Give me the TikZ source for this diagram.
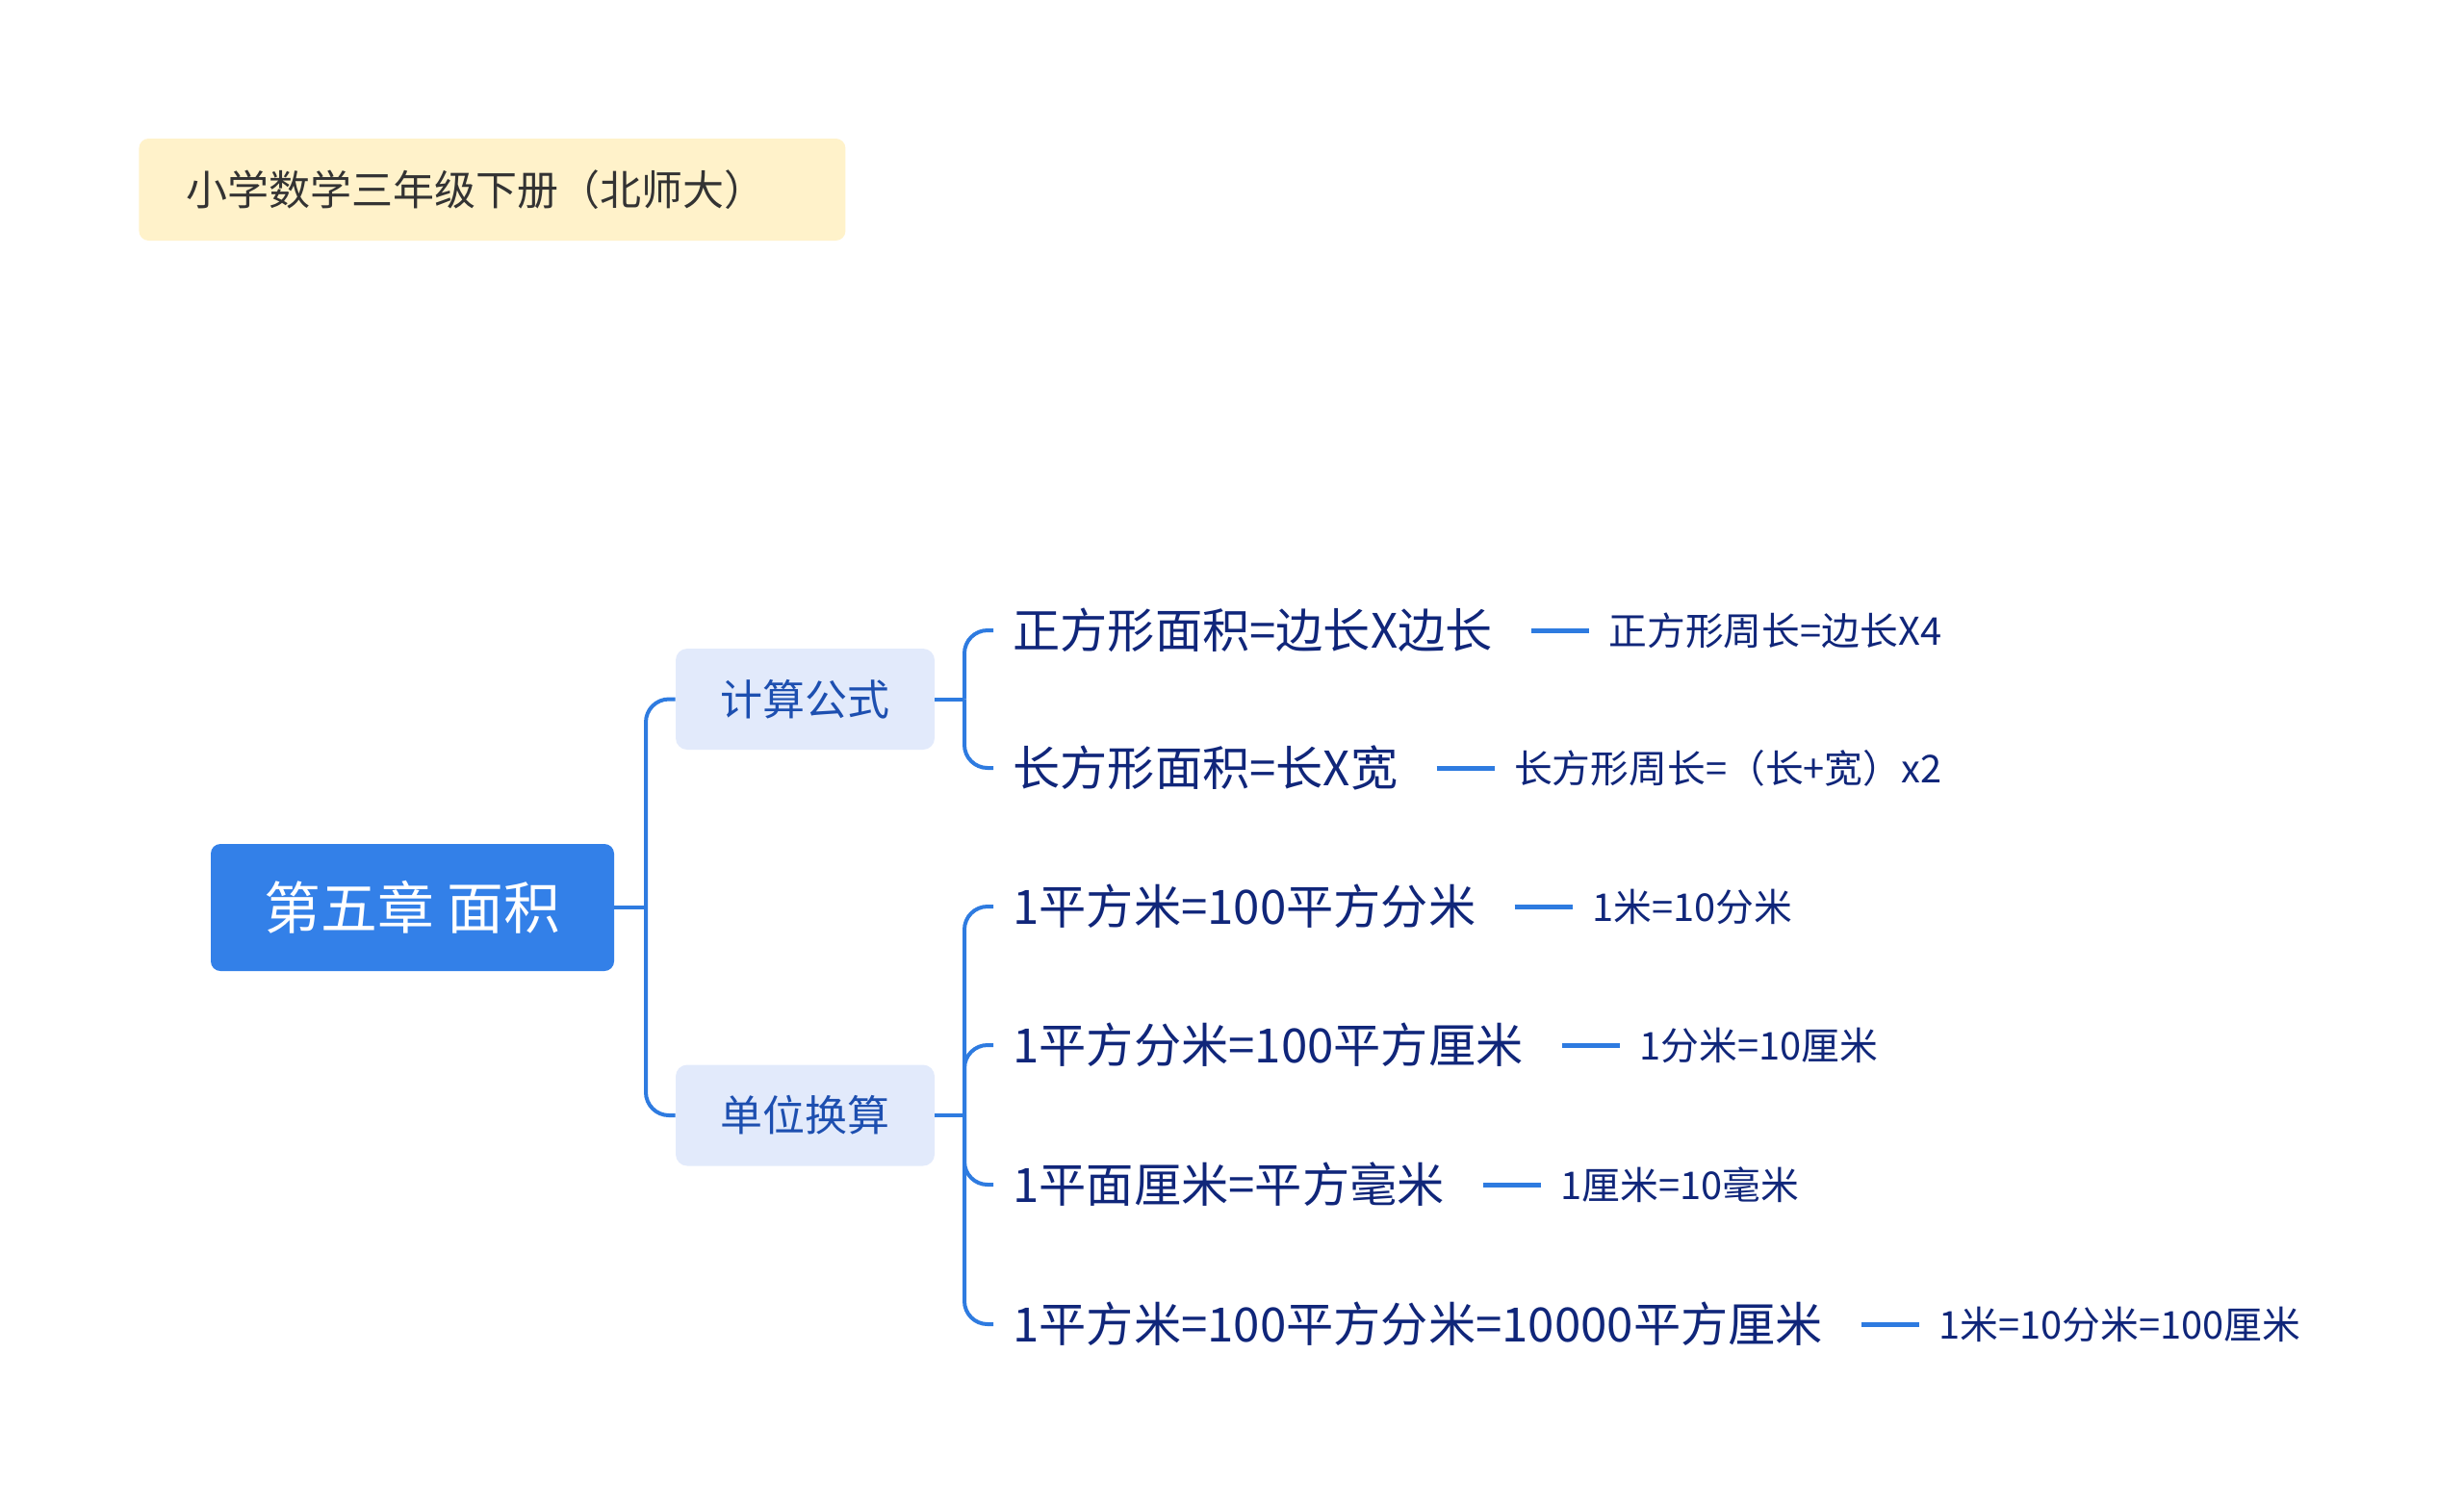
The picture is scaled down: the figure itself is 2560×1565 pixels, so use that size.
\documentclass[tikz,border=0pt]{standalone}
\usepackage{fontspec}
\setmainfont{Noto Sans CJK SC}
\usetikzlibrary{positioning}
\definecolor{titlefill}{HTML}{FFF2CA}
\definecolor{titletext}{HTML}{333333}
\definecolor{rootfill}{HTML}{3380E8}
\definecolor{childfill}{HTML}{E2EAFB}
\definecolor{childtext}{HTML}{1D4FB0}
\definecolor{leaftext}{HTML}{10267A}
\definecolor{linecol}{HTML}{2E7BE0}
\begin{document}
\begin{tikzpicture}[x=0.5pt,y=-0.5pt,
  titlebox/.style={fill=titlefill, rounded corners=5pt, minimum width=367pt, minimum height=53pt,
    text width=318pt, align=left, inner xsep=24.5pt, anchor=west, text=titletext,
    font=\fontsize{21.5}{26}\selectfont},
  rootbox/.style={fill=rootfill, rounded corners=5pt, minimum width=209.5pt, minimum height=66pt,
    text=white, font=\fontsize{29.4}{35}\selectfont},
  childbox/.style={fill=childfill, rounded corners=6pt, minimum width=134.5pt, minimum height=52.5pt,
    text=childtext, font=\fontsize{22}{26}\selectfont},
  leafnode/.style={anchor=west, inner xsep=10pt, inner ysep=2pt, text=leaftext,
    font=\fontsize{24.6}{30}\selectfont},
  subnode/.style={inner xsep=10pt, inner ysep=2pt, text=leaftext,
    font=\fontsize{19.9}{24}\selectfont},
  conn/.style={draw=linecol, line width=2pt},
  subconn/.style={draw=linecol, line width=2.5pt, shorten <=10pt},
]
\useasboundingbox (0,0) rectangle (2560,1565);

\node[titlebox] (title) at (144,197) {小学数学三年级下册（北师大）};

\node[rootbox] (root) at (428.5,943) {第五章 面积};

\node[childbox] (c1) at (836.5,726.5) {计算公式};
\node[childbox] (c2) at (836.5,1159) {单位换算};

\node[leafnode] (l1) at (1032,655) {正方形面积=边长X边长};
\node[leafnode] (l2) at (1032,798) {长方形面积=长X宽};
\node[leafnode] (l3) at (1032,942) {1平方米=100平方分米};
\node[leafnode] (l4) at (1032,1086) {1平方分米=100平方厘米};
\node[leafnode] (l5) at (1032,1231) {1平面厘米=平方毫米};
\node[leafnode] (l6) at (1032,1376) {1平方米=100平方分米=10000平方厘米};

\node[subnode, right=40pt of l1] (s1) {正方形周长=边长X4};
\node[subnode, right=40pt of l2] (s2) {长方形周长=（长+宽）x2};
\node[subnode, right=40pt of l3] (s3) {1米=10分米};
\node[subnode, right=40pt of l4] (s4) {1分米=10厘米};
\node[subnode, right=40pt of l5] (s5) {1厘米=10毫米};
\node[subnode, right=40pt of l6] (s6) {1米=10分米=100厘米};

% root to children
\draw[conn] (root.east) -- (671,943) coordinate (j0);
\draw[conn, rounded corners=12pt] (j0) |- (c1.west);
\draw[conn, rounded corners=12pt] (j0) |- (c2.west);

% child 1 to leaves
\draw[conn] (c1.east) -- (1002,726.5) coordinate (j1);
\draw[conn, rounded corners=12pt] (j1) |- (l1.west);
\draw[conn, rounded corners=12pt] (j1) |- (l2.west);

% child 2 to leaves
\draw[conn] (c2.east) -- (1002,1159) coordinate (j2);
\draw[conn, rounded corners=12pt] (j2) |- (l3.west);
\draw[conn, rounded corners=12pt] (j2) |- (l4.west);
\draw[conn, rounded corners=12pt] (j2) |- (l5.west);
\draw[conn, rounded corners=12pt] (j2) |- (l6.west);

% leaves to sub-notes
\draw[subconn] (l1.east) -- (s1.west);
\draw[subconn] (l2.east) -- (s2.west);
\draw[subconn] (l3.east) -- (s3.west);
\draw[subconn] (l4.east) -- (s4.west);
\draw[subconn] (l5.east) -- (s5.west);
\draw[subconn] (l6.east) -- (s6.west);
\end{tikzpicture}
\end{document}
